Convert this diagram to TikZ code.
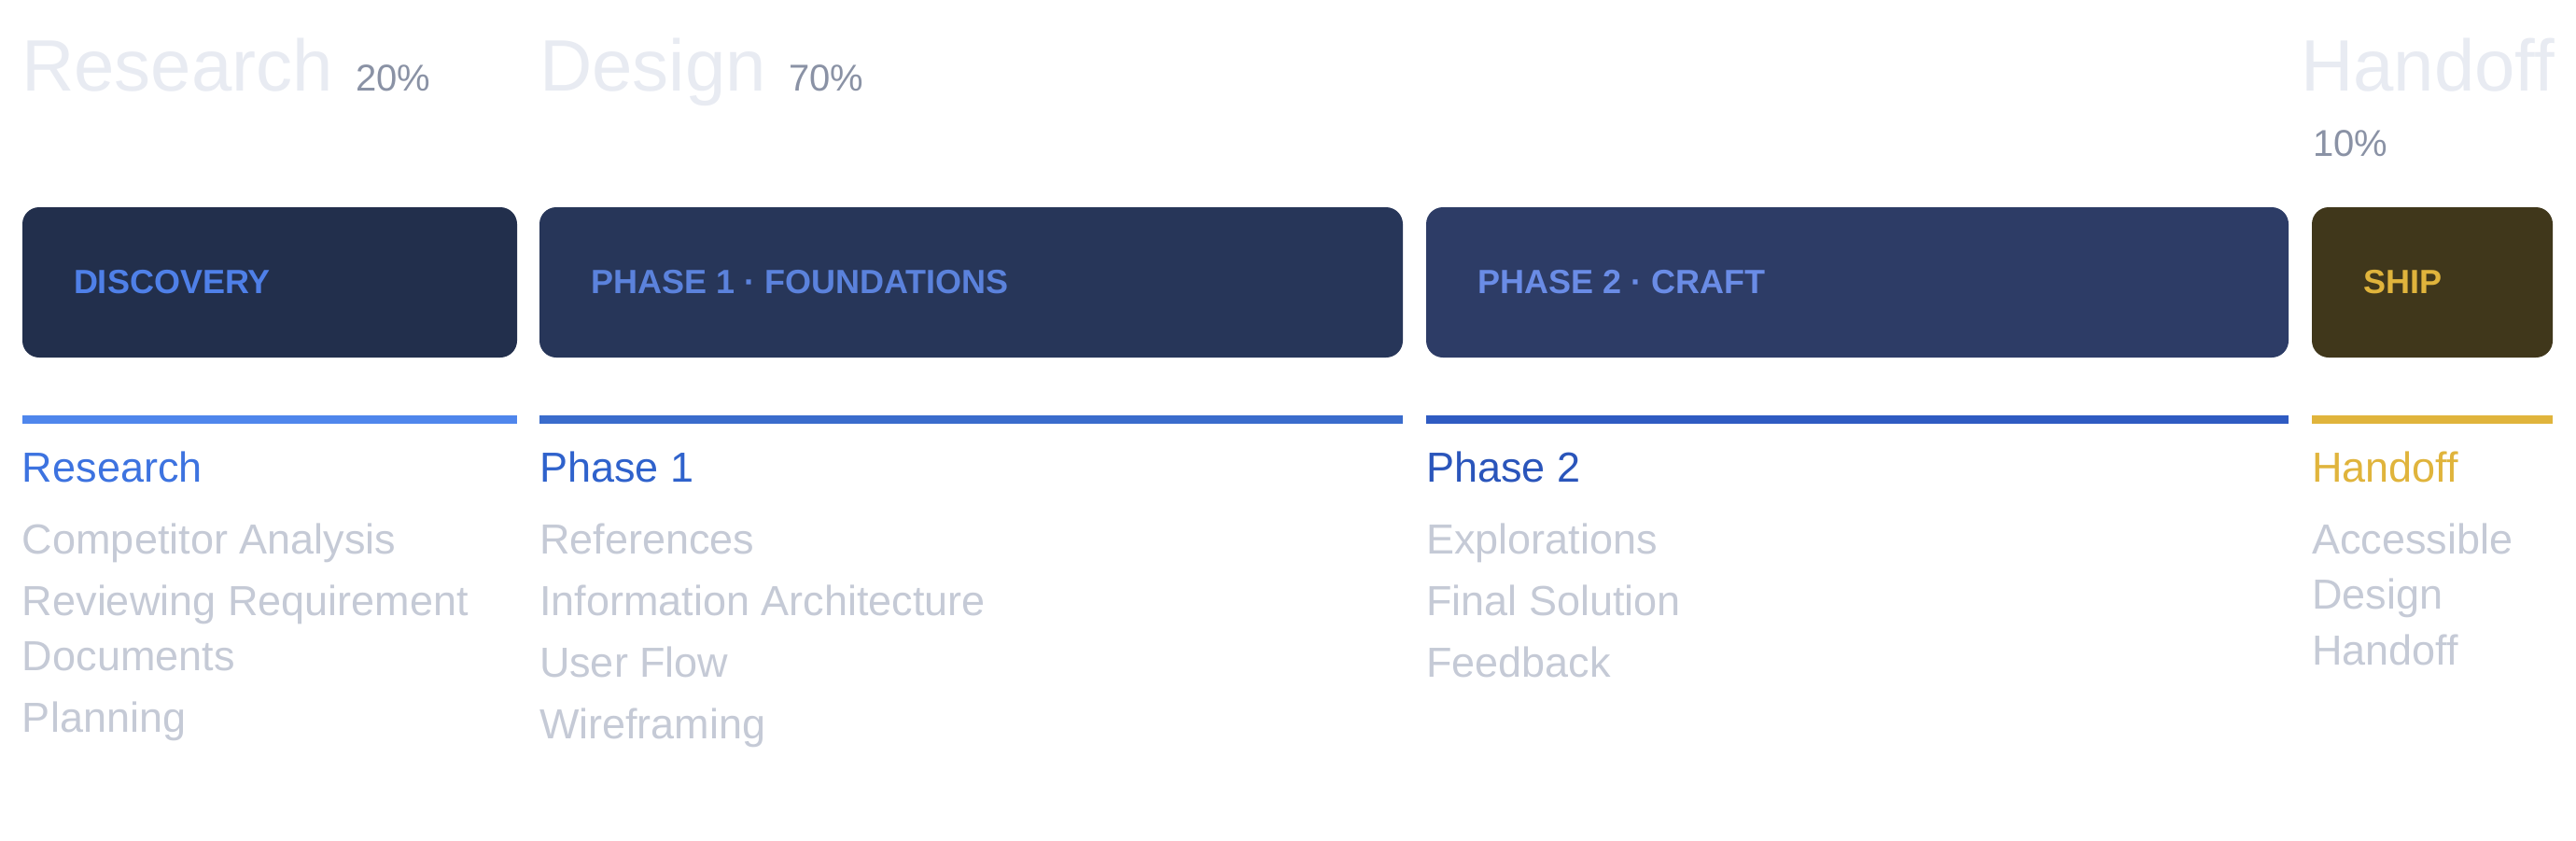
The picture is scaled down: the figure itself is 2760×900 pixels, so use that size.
\documentclass[tikz,border=0pt]{standalone}
\usepackage{fontspec}
\setmainfont{Liberation Sans}
\definecolor{titlec}{HTML}{E8EBF2}
\definecolor{pctc}{HTML}{8A92A5}
\definecolor{itemc}{HTML}{C5CAD6}
\definecolor{boxA}{HTML}{222F4C}
\definecolor{boxB}{HTML}{273659}
\definecolor{boxC}{HTML}{2D3C66}
\definecolor{boxD}{HTML}{40371B}
\definecolor{labA}{HTML}{4F80E8}
\definecolor{labB}{HTML}{5B82DC}
\definecolor{labC}{HTML}{6A8CE6}
\definecolor{gold}{HTML}{E0B43C}
\definecolor{barA}{HTML}{4F86EC}
\definecolor{barB}{HTML}{3A6CCC}
\definecolor{barC}{HTML}{2F5BC2}
\definecolor{headA}{HTML}{3D73E0}
\definecolor{headB}{HTML}{2F62CC}
\definecolor{headC}{HTML}{2A55BB}
\begin{document}
\begin{tikzpicture}[x=0.5pt,y=-0.5pt,
  txt/.style={inner sep=0pt, outer sep=0pt, anchor=base west},
  bigtitle/.style={txt, text=titlec, font=\fontsize{39pt}{39pt}\selectfont},
  pct/.style={txt, text=pctc, font=\fontsize{20pt}{20pt}\selectfont},
  phasebox/.style={rounded corners=9pt, inner sep=0pt, outer sep=0pt, minimum height=80.5pt, anchor=north west, draw=none},
  boxlabel/.style={txt, font=\fontsize{18pt}{18pt}\selectfont\bfseries},
  head/.style={txt, font=\fontsize{22.5pt}{22.5pt}\selectfont},
  item/.style={txt, text=itemc, font=\fontsize{22.5pt}{22.5pt}\selectfont},
  bar/.style={inner sep=0pt, outer sep=0pt, minimum height=4.5pt, anchor=north west, draw=none}
]
\useasboundingbox[fill=white] (0,0) rectangle (2760,900);

% titles
\node[bigtitle] (tRes) at (23,97) {Research};
\node[pct] (pRes) at (381,97) {20\%};
\node[bigtitle] (tDes) at (578,97) {Design};
\node[pct] (pDes) at (845,97) {70\%};
\node[bigtitle] (tHan) at (2465,97) {Handoff};
\node[pct] (pHan) at (2478,167) {10\%};

% phase boxes
\node[phasebox, fill=boxA, minimum width=265pt] (bDisc) at (24,222) {};
\node[phasebox, fill=boxB, minimum width=462.5pt] (bP1) at (578,222) {};
\node[phasebox, fill=boxC, minimum width=462pt] (bP2) at (1528,222) {};
\node[phasebox, fill=boxD, minimum width=129pt] (bShip) at (2477,222) {};

\node[boxlabel, text=labA] (lDisc) at (79,314) {DISCOVERY};
\node[boxlabel, text=labB] (lP1) at (633,314) {PHASE 1 · FOUNDATIONS};
\node[boxlabel, text=labC] (lP2) at (1583,314) {PHASE 2 · CRAFT};
\node[boxlabel, text=gold] (lShip) at (2532,314) {SHIP};

% bars
\node[bar, fill=barA, minimum width=265pt] (rDisc) at (24,445) {};
\node[bar, fill=barB, minimum width=462.5pt] (rP1) at (578,445) {};
\node[bar, fill=barC, minimum width=462pt] (rP2) at (1528,445) {};
\node[bar, fill=gold, minimum width=129pt] (rShip) at (2477,445) {};

% column: research
\node[head, text=headA] (hRes) at (24,516) {Research};
\node[item] (i11) at (24,593) {Competitor Analysis};
\node[item] (i12) at (24,659) {Reviewing Requirement};
\node[item] (i12b) at (24,718) {Documents};
\node[item] (i13) at (24,784) {Planning};

% column: phase 1
\node[head, text=headB] (hP1) at (578,516) {Phase 1};
\node[item] (i21) at (578,593) {References};
\node[item] (i22) at (578,659) {Information Architecture};
\node[item] (i23) at (578,725) {User Flow};
\node[item] (i24) at (578,791) {Wireframing};

% column: phase 2
\node[head, text=headC] (hP2) at (1528,516) {Phase 2};
\node[item] (i31) at (1528,593) {Explorations};
\node[item] (i32) at (1528,659) {Final Solution};
\node[item] (i33) at (1528,725) {Feedback};

% column: handoff
\node[head, text=gold] (hHan) at (2477,516) {Handoff};
\node[item] (i41) at (2477,593) {Accessible};
\node[item] (i41b) at (2477,652) {Design};
\node[item] (i41c) at (2477,712) {Handoff};
\end{tikzpicture}
\end{document}
